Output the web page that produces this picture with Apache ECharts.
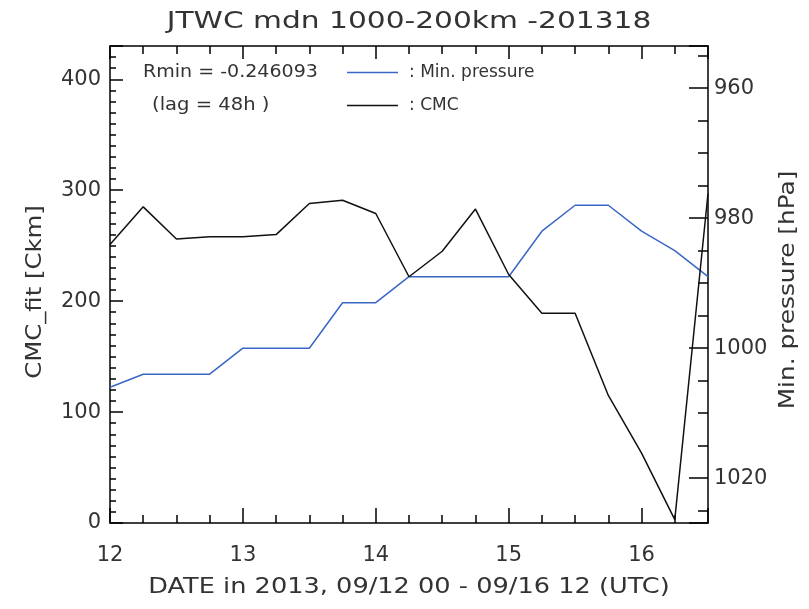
<!DOCTYPE html>
<html>
<head>
<meta charset="utf-8">
<script src="https://cdn.jsdelivr.net/npm/echarts@6/dist/echarts.min.js"></script>
<style>
  html, body { margin: 0; padding: 0; background: #ffffff; }
  #chart { width: 809px; height: 609px; }
</style>
</head>
<body>
<div id="chart"></div>
<script>
// ---- data ----
const times = [12.00, 12.25, 12.50, 12.75, 13.00, 13.25, 13.50, 13.75, 14.00, 14.25,
               14.50, 14.75, 15.00, 15.25, 15.50, 15.75, 16.00, 16.25, 16.50];
const cmcFit = [251, 285, 256, 258, 258, 260, 288, 291, 279, 222,
                245, 283, 224, 189, 189, 115, 63, 3, 297];
const minPressure = [1006, 1004, 1004, 1004, 1000, 1000, 1000, 993, 993, 989,
                     989, 989, 989, 982, 978, 978, 982, 985, 989];
const xTicks = [12, 13, 14, 15, 16];
const leftTicks = [0, 100, 200, 300, 400];
const rightTicks = [960, 980, 1000, 1020];

const titleText = 'JTWC mdn 1000-200km -201318';
const xName = 'DATE in 2013, 09/12 00 - 09/16 12 (UTC)';
const yLeftName = 'CMC_fit [Ckm]';
const yRightName = 'Min. pressure [hPa]';
const noteRmin = 'Rmin = -0.246093';
const noteLag = '(lag = 48h )';
const seriesNames = ['Min. pressure', 'CMC'];

// ---- chart ----
const FONT = 'DejaVu Sans';
const INK = '#333';
const chart = echarts.init(document.getElementById('chart'), null, { renderer: 'canvas' });

const axisLineStyle = { color: '#000', width: 1.5 };

function txt(x, y, text, size, sx, rot, align) {
  return {
    type: 'text', x: x, y: y, scaleX: sx, rotation: rot || 0,
    style: { text: text, fontSize: size, fontFamily: FONT, fill: INK,
             align: align || 'center', verticalAlign: 'middle' }
  };
}

const option = {
  backgroundColor: '#ffffff',
  animation: false,
  grid: { left: 110, right: 101, top: 46, bottom: 86, show: false },
  xAxis: [
    {
      type: 'value', position: 'bottom', min: 12, max: 16.5, interval: 1,
      axisLine: { show: true, onZero: false, lineStyle: axisLineStyle },
      axisTick: { show: true, inside: true, length: 15, lineStyle: { color: '#000', width: 1.5 } },
      minorTick: { show: true, splitNumber: 4, length: 8, lineStyle: { color: '#000', width: 1.5 } },
      splitLine: { show: false },
      axisLabel: {
        show: true, margin: 22, fontSize: 21, fontFamily: FONT, color: INK,
        showMaxLabel: false,
        formatter: v => (xTicks.indexOf(v) >= 0 ? String(v) : '')
      }
    },
    {
      type: 'value', position: 'top', min: 12, max: 16.5, interval: 1,
      axisLine: { show: true, onZero: false, lineStyle: axisLineStyle },
      axisTick: { show: true, inside: true, length: 13, lineStyle: { color: '#000', width: 1.5 } },
      minorTick: { show: true, splitNumber: 4, length: 8, lineStyle: { color: '#000', width: 1.5 } },
      splitLine: { show: false },
      axisLabel: { show: false }
    }
  ],
  yAxis: [
    {
      type: 'value', position: 'left', min: 0, max: 430, interval: 100,
      axisLine: { show: true, onZero: false, lineStyle: axisLineStyle },
      axisTick: { show: true, inside: true, length: 13, lineStyle: { color: '#000', width: 1.5 } },
      minorTick: { show: true, splitNumber: 10, length: 6, lineStyle: { color: '#000', width: 1.5 } },
      splitLine: { show: false },
      axisLabel: {
        show: true, margin: 9, fontSize: 21, fontFamily: FONT, color: INK,
        showMaxLabel: false,
        formatter: v => (leftTicks.indexOf(v) >= 0 ? String(v) : '')
      }
    },
    {
      type: 'value', position: 'right', inverse: true, min: 953.5, max: 1026.9, splitNumber: 4,
      axisLine: { show: true, onZero: false, lineStyle: axisLineStyle },
      axisTick: { show: true, inside: true, length: 19, lineStyle: { color: '#000', width: 1.5 } },
      minorTick: { show: true, splitNumber: 4, length: 10, lineStyle: { color: '#000', width: 1.5 } },
      splitLine: { show: false },
      axisLabel: {
        show: true, margin: 6, fontSize: 21, fontFamily: FONT, color: INK,
        showMinLabel: false, showMaxLabel: false,
        formatter: v => (rightTicks.indexOf(v) >= 0 ? String(v) : '')
      }
    }
  ],
  legend: [
    {
      data: [seriesNames[0]], left: 347, top: 64, padding: 0, icon: 'rect',
      itemWidth: 51, itemHeight: 1.5, selectedMode: false,
      formatter: n => ': ' + n,
      textStyle: { fontSize: 17, fontFamily: FONT, color: INK, padding: [0, 0, 0, 6] }
    },
    {
      data: [seriesNames[1]], left: 347, top: 97, padding: 0, icon: 'rect',
      itemWidth: 51, itemHeight: 1.5, selectedMode: false,
      formatter: n => ': ' + n,
      textStyle: { fontSize: 17, fontFamily: FONT, color: INK, padding: [0, 0, 0, 6] }
    }
  ],
  graphic: [
    txt(409, 22, titleText, 23, 1.29, 0),
    txt(409, 588, xName, 21, 1.22, 0),
    txt(36, 292, yLeftName, 21, 1.16, Math.PI / 2),
    txt(789, 290, yRightName, 21, 1.18, Math.PI / 2),
    txt(143, 72.5, noteRmin, 17, 1.12, 0, 'left'),
    txt(152, 105.5, noteLag, 17, 1.15, 0, 'left')
  ],
  series: [
    {
      name: seriesNames[0], type: 'line', xAxisIndex: 0, yAxisIndex: 1,
      data: times.map((t, i) => [t, minPressure[i]]),
      showSymbol: false, symbol: 'none',
      lineStyle: { color: '#3a67c6', width: 1.5 },
      itemStyle: { color: '#3a67c6' },
      z: 2
    },
    {
      name: seriesNames[1], type: 'line', xAxisIndex: 0, yAxisIndex: 0,
      data: times.map((t, i) => [t, cmcFit[i]]),
      showSymbol: false, symbol: 'none',
      lineStyle: { color: '#111', width: 1.5 },
      itemStyle: { color: '#111' },
      z: 3
    }
  ]
};

chart.setOption(option);
</script>
</body>
</html>
